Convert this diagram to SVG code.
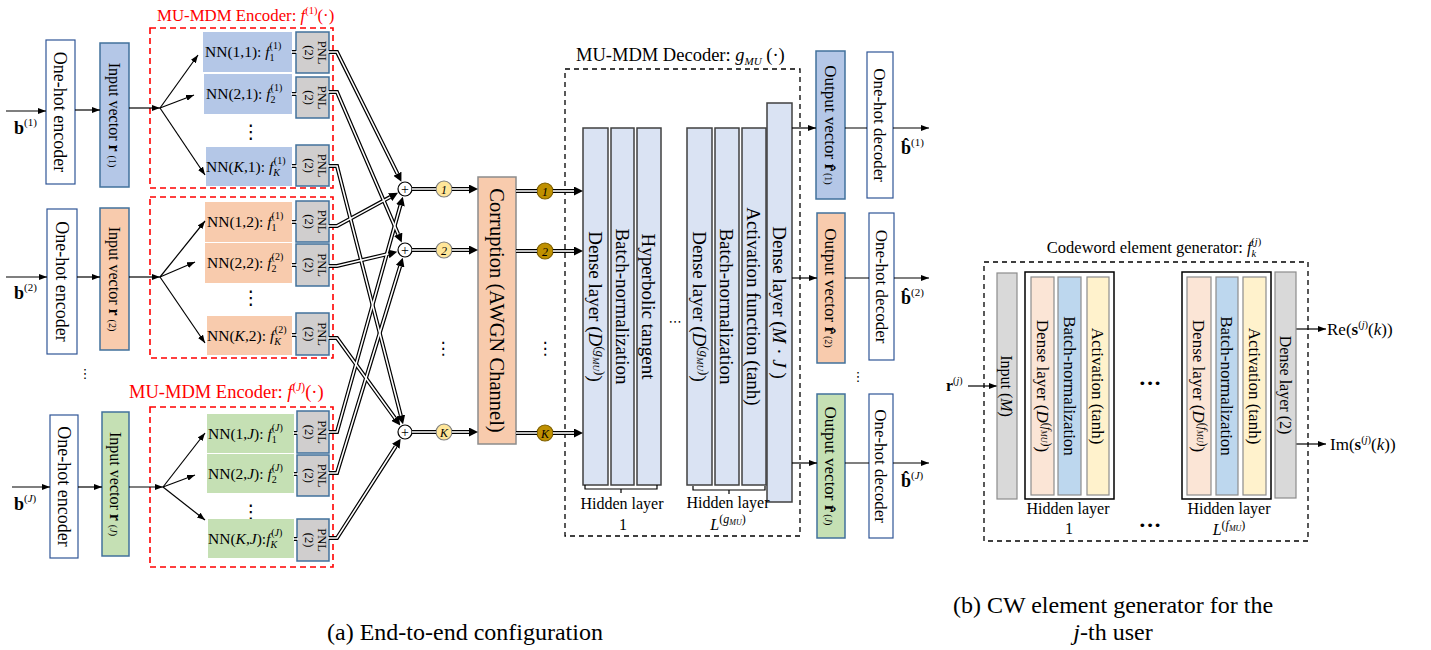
<svg xmlns="http://www.w3.org/2000/svg" width="1431" height="650" viewBox="0 0 1431 650">
<defs>
<style>
text{font-family:"Liberation Serif","Times New Roman",serif;fill:#000}
.i{font-style:italic}
.b{font-weight:bold}
.red{fill:#ff0000}
.dots{font-family:"DejaVu Sans",sans-serif}
.ohe{fill:#fff;stroke:#2f5597;stroke-width:1.2}
.blue{fill:#b4c7e7}
.orange{fill:#f8cbad}
.green{fill:#c5e0b4}
.bd{stroke:#41719c;stroke-width:1.5}
.pnl{fill:#d0cece;stroke:#41719c;stroke-width:1.5}
.encbox{fill:none;stroke:#ff0000;stroke-width:1.6;stroke-dasharray:6 4}
.dash{fill:none;stroke:#000;stroke-width:1.3;stroke-dasharray:5 4}
.layer{fill:#dae3f3;stroke:#404040;stroke-width:1.5}
.arr{fill:none;stroke:#000;stroke-width:1.2;marker-end:url(#ah)}
.ln{fill:none;stroke:#000;stroke-width:1.2}
.db{fill:none;stroke:#000;stroke-width:4}
.dba{fill:none;stroke:#000;stroke-width:4;marker-end:url(#dh)}
.dw{fill:none;stroke:#fff;stroke-width:1.6}
.sum{fill:#fff;stroke:#000;stroke-width:1.2}
.yel{fill:#ffe699;stroke:#7f7f7f;stroke-width:1.2}
.gold{fill:#bf9000;stroke:#7f6000;stroke-width:1.2}
.corr{fill:#f8cbad;stroke:#8c8c8c;stroke-width:1.5}
.gray{fill:#d9d9d9;stroke:#8c8c8c;stroke-width:1.2}
.peach{fill:#fbe5d6;stroke:#8c8c8c;stroke-width:1.2}
.lblue{fill:#bdd7ee;stroke:#8c8c8c;stroke-width:1.2}
.lyel{fill:#fff2cc;stroke:#8c8c8c;stroke-width:1.2}
.hl{fill:#fff;stroke:#000;stroke-width:1.5}
.nn{font-size:15.5px}
.pt{font-size:12.5px}
.f18{font-size:18px}
.f17{font-size:17px}
.f16{font-size:16px}
.f19{font-size:19px}
.cap{font-size:24px}
</style>
<marker id="ah" viewBox="0 0 8 6" markerWidth="8" markerHeight="6" refX="8" refY="3" orient="auto" markerUnits="userSpaceOnUse"><path d="M0,0 L8,3 L0,6 z" fill="#000"/></marker>
<marker id="dh" viewBox="0 0 9 9" markerWidth="9" markerHeight="9" refX="0" refY="4.5" orient="auto" markerUnits="userSpaceOnUse"><path d="M0,0 L9,4.5 L0,9 z" fill="#000"/></marker>
</defs>
<rect width="1431" height="650" fill="#fff"/>

<!-- Left column: inputs -->
<g id="b1-label"><text x="14" y="134" class="f18"><tspan class="b">b</tspan><tspan font-size="11" dy="-8">(1)</tspan></text></g>
<g id="b2-label"><text x="14" y="299" class="f18"><tspan class="b">b</tspan><tspan font-size="11" dy="-8">(2)</tspan></text></g>
<g id="bJ-label"><text x="14" y="510" class="f18"><tspan class="b">b</tspan><tspan font-size="11" dy="-8">(<tspan class="i">J</tspan>)</tspan></text></g>

<g id="ohe1"><rect class="ohe" x="46" y="40" width="29" height="144"/><text class="f18" transform="translate(60.5,112) rotate(90)" text-anchor="middle" dy="0.35em">One-hot encoder</text></g>
<g id="ohe2"><rect class="ohe" x="47" y="209" width="30" height="145"/><text class="f18" transform="translate(62,281.5) rotate(90)" text-anchor="middle" dy="0.35em">One-hot encoder</text></g>
<g id="oheJ"><rect class="ohe" x="50" y="415" width="28" height="143"/><text class="f18" transform="translate(64,486.5) rotate(90)" text-anchor="middle" dy="0.35em">One-hot encoder</text></g>

<g id="iv1"><rect class="blue bd" x="100" y="43" width="29" height="144"/><text class="f16" transform="translate(114.5,115) rotate(90)" text-anchor="middle" dy="0.35em">Input vector <tspan class="b">r</tspan><tspan font-size="10" dx="4">(1)</tspan></text></g>
<g id="iv2"><rect class="orange bd" x="100" y="208" width="29" height="142"/><text class="f16" transform="translate(114.5,279) rotate(90)" text-anchor="middle" dy="0.35em">Input vector <tspan class="b">r</tspan><tspan font-size="10" dx="4">(2)</tspan></text></g>
<g id="ivJ"><rect class="green bd" x="102" y="412" width="27" height="144"/><text class="f16" transform="translate(115.5,484) rotate(90)" text-anchor="middle" dy="0.35em">Input vector <tspan class="b">r</tspan><tspan font-size="10" dx="4">(<tspan class="i">J</tspan>)</tspan></text></g>
<text class="dots" x="85" y="378" font-size="13" text-anchor="middle">⋮</text>

<!-- Encoder 1 -->
<g id="encoder1">
<rect class="encbox" x="150" y="28" width="183" height="160"/>
<text class="red" x="157" y="21" font-size="16.8">MU-MDM Encoder: <tspan class="i">f</tspan><tspan font-size="10.5" dy="-7">(1)</tspan><tspan dy="7">(·)</tspan></text>
<g id="nn-1-1"><rect class="blue" x="203" y="32" width="89" height="40"/><text class="nn" x="205" y="57">NN(1,1): <tspan class="i">f</tspan><tspan font-size="10" dy="4">1</tspan><tspan font-size="10" dx="-5" dy="-12">(1)</tspan></text></g>
<g id="nn-2-1"><rect class="blue" x="204" y="74" width="88" height="40"/><text class="nn" x="206" y="99">NN(2,1): <tspan class="i">f</tspan><tspan font-size="10" dy="4">2</tspan><tspan font-size="10" dx="-5" dy="-12">(1)</tspan></text></g>
<text class="dots" x="251" y="138" font-size="19" text-anchor="middle">⋮</text>
<g id="nn-K-1"><rect class="blue" x="206" y="147" width="86" height="39"/><text class="nn" x="206" y="172">NN(<tspan class="i">K</tspan>,1): <tspan class="i">f</tspan><tspan font-size="10" class="i" dy="4">K</tspan><tspan font-size="10" dx="-6" dy="-12">(1)</tspan></text></g>
<g id="pnl-1-1"><rect class="pnl" x="296" y="32" width="33" height="41"/><text class="pt" transform="translate(318,52.5) rotate(90)" text-anchor="middle">PNL</text><text class="pt" transform="translate(305,52.5) rotate(90)" text-anchor="middle">(2)</text></g>
<g id="pnl-2-1"><rect class="pnl" x="296" y="77" width="33" height="41"/><text class="pt" transform="translate(318,97.5) rotate(90)" text-anchor="middle">PNL</text><text class="pt" transform="translate(305,97.5) rotate(90)" text-anchor="middle">(2)</text></g>
<g id="pnl-K-1"><rect class="pnl" x="296" y="145" width="33" height="41"/><text class="pt" transform="translate(318,165.5) rotate(90)" text-anchor="middle">PNL</text><text class="pt" transform="translate(305,165.5) rotate(90)" text-anchor="middle">(2)</text></g>
</g>

<!-- Encoder 2 -->
<g id="encoder2">
<rect class="encbox" x="150" y="197" width="183" height="161"/>
<g id="nn-1-2"><rect class="orange" x="205" y="202" width="87" height="40"/><text class="nn" x="207" y="227">NN(1,2): <tspan class="i">f</tspan><tspan font-size="10" dy="4">1</tspan><tspan font-size="10" dx="-5" dy="-12">(1)</tspan></text></g>
<g id="nn-2-2"><rect class="orange" x="205" y="243" width="87" height="40"/><text class="nn" x="207" y="268">NN(2,2): <tspan class="i">f</tspan><tspan font-size="10" dy="4">2</tspan><tspan font-size="10" dx="-5" dy="-12">(2)</tspan></text></g>
<text class="dots" x="251" y="304" font-size="19" text-anchor="middle">⋮</text>
<g id="nn-K-2"><rect class="orange" x="207" y="316" width="85" height="39"/><text class="nn" x="207" y="341">NN(<tspan class="i">K</tspan>,2): <tspan class="i">f</tspan><tspan font-size="10" class="i" dy="4">K</tspan><tspan font-size="10" dx="-6" dy="-12">(2)</tspan></text></g>
<g id="pnl-1-2"><rect class="pnl" x="296" y="201" width="33" height="41"/><text class="pt" transform="translate(318,221.5) rotate(90)" text-anchor="middle">PNL</text><text class="pt" transform="translate(305,221.5) rotate(90)" text-anchor="middle">(2)</text></g>
<g id="pnl-2-2"><rect class="pnl" x="296" y="244" width="33" height="42"/><text class="pt" transform="translate(318,265) rotate(90)" text-anchor="middle">PNL</text><text class="pt" transform="translate(305,265) rotate(90)" text-anchor="middle">(2)</text></g>
<g id="pnl-K-2"><rect class="pnl" x="296" y="313" width="33" height="42"/><text class="pt" transform="translate(318,334) rotate(90)" text-anchor="middle">PNL</text><text class="pt" transform="translate(305,334) rotate(90)" text-anchor="middle">(2)</text></g>
</g>

<!-- Encoder J -->
<g id="encoderJ">
<rect class="encbox" x="150" y="407" width="183" height="160"/>
<text class="red" x="129" y="398" font-size="18.5">MU-MDM Encoder: <tspan class="i">f</tspan><tspan font-size="11.5" dy="-7">(<tspan class="i">J</tspan>)</tspan><tspan dy="7">(·)</tspan></text>
<g id="nn-1-J"><rect class="green" x="207" y="414" width="87" height="39"/><text class="nn" x="208" y="439">NN(1,<tspan class="i">J</tspan>): <tspan class="i">f</tspan><tspan font-size="10" dy="4">1</tspan><tspan font-size="10" dx="-5" dy="-12">(<tspan class="i">J</tspan>)</tspan></text></g>
<g id="nn-2-J"><rect class="green" x="207" y="454" width="87" height="39"/><text class="nn" x="208" y="479">NN(2,<tspan class="i">J</tspan>): <tspan class="i">f</tspan><tspan font-size="10" dy="4">2</tspan><tspan font-size="10" dx="-5" dy="-12">(<tspan class="i">J</tspan>)</tspan></text></g>
<text class="dots" x="251" y="518" font-size="19" text-anchor="middle">⋮</text>
<g id="nn-K-J"><rect class="green" x="208" y="519" width="86" height="39"/><text class="nn" x="208" y="544">NN(<tspan class="i">K</tspan>,<tspan class="i">J</tspan>):<tspan class="i">f</tspan><tspan font-size="10" class="i" dy="4">K</tspan><tspan font-size="10" dx="-6" dy="-12">(<tspan class="i">J</tspan>)</tspan></text></g>
<g id="pnl-1-J"><rect class="pnl" x="297" y="411" width="32" height="42"/><text class="pt" transform="translate(318,432) rotate(90)" text-anchor="middle">PNL</text><text class="pt" transform="translate(305,432) rotate(90)" text-anchor="middle">(2)</text></g>
<g id="pnl-2-J"><rect class="pnl" x="297" y="455" width="32" height="41"/><text class="pt" transform="translate(318,475.5) rotate(90)" text-anchor="middle">PNL</text><text class="pt" transform="translate(305,475.5) rotate(90)" text-anchor="middle">(2)</text></g>
<g id="pnl-K-J"><rect class="pnl" x="297" y="519" width="32" height="42"/><text class="pt" transform="translate(318,540) rotate(90)" text-anchor="middle">PNL</text><text class="pt" transform="translate(305,540) rotate(90)" text-anchor="middle">(2)</text></g>
</g>

<!-- Sum nodes and channel indices -->
<g id="sum1"><circle class="sum" cx="405" cy="189" r="7"/><text x="405" y="194" font-size="14" text-anchor="middle">+</text></g>
<g id="sum2"><circle class="sum" cx="405" cy="250" r="7"/><text x="405" y="255" font-size="14" text-anchor="middle">+</text></g>
<g id="sumK"><circle class="sum" cx="405" cy="432" r="7"/><text x="405" y="437" font-size="14" text-anchor="middle">+</text></g>
<g id="y1"><circle class="yel" cx="444" cy="189" r="8"/><text class="i" x="444" y="193.5" font-size="12" text-anchor="middle">1</text></g>
<g id="y2"><circle class="yel" cx="444" cy="250" r="8"/><text class="i" x="444" y="254.5" font-size="12" text-anchor="middle">2</text></g>
<g id="yK"><circle class="yel" cx="444" cy="432" r="8"/><text class="i" x="444" y="436.5" font-size="12" text-anchor="middle">K</text></g>
<text class="dots" x="443" y="354" font-size="17" text-anchor="middle">⋮</text>

<g id="corruption"><rect class="corr" x="478" y="177" width="38" height="267"/><text font-size="20.5" transform="translate(497,310.5) rotate(90)" text-anchor="middle" dy="0.35em">Corruption (AWGN Channel)</text></g>

<g id="g1"><circle class="gold" cx="545" cy="191" r="8"/><text class="i" x="545" y="195.5" font-size="12" text-anchor="middle">1</text></g>
<g id="g2"><circle class="gold" cx="545" cy="251" r="8"/><text class="i" x="545" y="255.5" font-size="12" text-anchor="middle">2</text></g>
<g id="gK"><circle class="gold" cx="545" cy="433" r="8"/><text class="i" x="545" y="437.5" font-size="12" text-anchor="middle">K</text></g>
<text class="dots" x="545" y="354" font-size="17" text-anchor="middle">⋮</text>

<!-- Decoder -->
<g id="decoder">
<rect class="dash" x="565" y="69" width="235" height="467"/>
<text x="576" y="61" font-size="18.5">MU-MDM Decoder: <tspan class="i">g</tspan><tspan class="i" font-size="11" dy="4">MU</tspan><tspan dy="-4"> (·)</tspan></text>
<g id="dec-l1"><rect class="layer" x="583" y="128" width="25" height="357"/><text class="f19" transform="translate(595.5,306.5) rotate(90)" text-anchor="middle" dy="0.35em">Dense layer (<tspan class="i">D</tspan><tspan font-size="13" dy="-7">(</tspan><tspan class="i" font-size="13">g</tspan><tspan class="i" font-size="9" dy="3">MU</tspan><tspan font-size="13" dy="-3">)</tspan><tspan dy="7">)</tspan></text></g>
<g id="dec-l2"><rect class="layer" x="611" y="128" width="23" height="357"/><text class="f19" transform="translate(622.5,306.5) rotate(90)" text-anchor="middle" dy="0.35em">Batch-normalization</text></g>
<g id="dec-l3"><rect class="layer" x="637" y="128" width="24" height="357"/><text class="f19" transform="translate(649,306.5) rotate(90)" text-anchor="middle" dy="0.35em">Hyperbolic tangent</text></g>
<text class="dots" x="675" y="326" font-size="13" text-anchor="middle">⋯</text>
<g id="dec-l4"><rect class="layer" x="687" y="128" width="25" height="357"/><text class="f19" transform="translate(699.5,306.5) rotate(90)" text-anchor="middle" dy="0.35em">Dense layer (<tspan class="i">D</tspan><tspan font-size="13" dy="-7">(</tspan><tspan class="i" font-size="13">g</tspan><tspan class="i" font-size="9" dy="3">MU</tspan><tspan font-size="13" dy="-3">)</tspan><tspan dy="7">)</tspan></text></g>
<g id="dec-l5"><rect class="layer" x="715" y="128" width="24" height="357"/><text class="f19" transform="translate(727,306.5) rotate(90)" text-anchor="middle" dy="0.35em">Batch-normalization</text></g>
<g id="dec-l6"><rect class="layer" x="742" y="128" width="24" height="357"/><text class="f19" transform="translate(754,306.5) rotate(90)" text-anchor="middle" dy="0.35em">Activation function (tanh)</text></g>
<g id="dec-l7"><rect class="layer" x="767" y="103" width="25" height="399"/><text class="f19" transform="translate(779.5,302.5) rotate(90)" text-anchor="middle" dy="0.35em">Dense layer (<tspan class="i">M</tspan> · <tspan class="i">J</tspan> )</text></g>
<path class="ln" d="M585,485 V489 H657 V485 M621,489 V493"/>
<text class="f16" x="622" y="509" text-anchor="middle">Hidden layer</text>
<text class="f16" x="623" y="530" text-anchor="middle">1</text>
<path class="ln" d="M693,486 V490 H765 V486 M729,490 V494"/>
<text class="f16" x="728" y="508" text-anchor="middle">Hidden layer</text>
<text class="f16" x="728" y="530" text-anchor="middle"><tspan class="i">L</tspan><tspan font-size="12" dy="-7">(</tspan><tspan class="i" font-size="12">g</tspan><tspan class="i" font-size="8" dy="2">MU</tspan><tspan font-size="12" dy="-2">)</tspan></text>
</g>

<!-- Outputs -->
<g id="ov1"><rect class="blue bd" x="816" y="51" width="29" height="148"/><text class="f17" transform="translate(830.5,125) rotate(90)" text-anchor="middle" dy="0.35em">Output vector  <tspan class="b">r̂</tspan><tspan font-size="10" dx="2">(1)</tspan></text></g>
<g id="od1"><rect class="ohe" x="867" y="52" width="26" height="146"/><text class="f17" transform="translate(880,125) rotate(90)" text-anchor="middle" dy="0.35em">One-hot decoder</text></g>
<g id="ov2"><rect class="orange bd" x="817" y="213" width="28" height="150"/><text class="f17" transform="translate(831,288) rotate(90)" text-anchor="middle" dy="0.35em">Output vector  <tspan class="b">r̂</tspan><tspan font-size="10" dx="2">(2)</tspan></text></g>
<g id="od2"><rect class="ohe" x="869" y="213" width="25" height="147"/><text class="f17" transform="translate(881.5,286.5) rotate(90)" text-anchor="middle" dy="0.35em">One-hot decoder</text></g>
<text class="dots" x="858" y="381" font-size="13" text-anchor="middle">⋮</text>
<g id="ovJ"><rect class="green bd" x="817" y="394" width="28" height="144"/><text class="f17" transform="translate(831,466) rotate(90)" text-anchor="middle" dy="0.35em">Output vector  <tspan class="b">r̂</tspan><tspan font-size="10" dx="2">(<tspan class="i">J</tspan>)</tspan></text></g>
<g id="odJ"><rect class="ohe" x="869" y="394" width="24" height="144"/><text class="f17" transform="translate(881,466) rotate(90)" text-anchor="middle" dy="0.35em">One-hot decoder</text></g>
<g id="bh1-label"><text x="901" y="154" class="f18"><tspan class="b">b̂</tspan><tspan font-size="11" dy="-8">(1)</tspan></text></g>
<g id="bh2-label"><text x="901" y="304" class="f18"><tspan class="b">b̂</tspan><tspan font-size="11" dy="-8">(2)</tspan></text></g>
<g id="bhJ-label"><text x="901" y="487" class="f18"><tspan class="b">b̂</tspan><tspan font-size="11" dy="-8">(<tspan class="i">J</tspan>)</tspan></text></g>

<!-- Connectors -->
<g id="connectors">
<path class="arr" d="M6,111 H46"/>
<path class="arr" d="M75,110 H100"/>
<path class="arr" d="M129,108 H160"/>
<path class="arr" d="M160,108 L198,55"/>
<path class="arr" d="M160,108 L194,95"/>
<path class="arr" d="M160,108 L205,175"/>
<path class="arr" d="M6,277 H47"/>
<path class="arr" d="M77,277 H100"/>
<path class="arr" d="M129,277 H160"/>
<path class="arr" d="M160,277 L205,221"/>
<path class="arr" d="M160,277 L195,262"/>
<path class="arr" d="M160,277 L205,343"/>
<path class="arr" d="M12,487 H50"/>
<path class="arr" d="M78,487 H102"/>
<path class="arr" d="M129,487 H163"/>
<path class="arr" d="M163,487 L205,433"/>
<path class="arr" d="M163,487 L195,475"/>
<path class="arr" d="M163,487 L205,520"/>

<path class="db" d="M292,52 H296 M292,94 H296 M292,166 H296 M292,222 H296 M292,265 H296 M292,335 H296 M294,433 H297 M294,474 H297 M294,539 H297"/>
<path class="dw" d="M291,52 H297 M291,94 H297 M291,166 H297 M291,222 H297 M291,265 H297 M291,335 H297 M293,433 H298 M293,474 H298 M293,539 H298"/>

<path class="dba" d="M329,52 H337 L397.4,173.7"/>
<path class="dba" d="M329,92 H337 L398.2,234.3"/>
<path class="dba" d="M329,166 H337 L400.8,415.5"/>
<path class="dba" d="M329,226 H337 L390.1,197.1"/>
<path class="dba" d="M329,266 H337 L388.4,253.9"/>
<path class="dba" d="M329,338 H337 L395.0,418.2"/>
<path class="dba" d="M329,432 H337 L400.4,205.4"/>
<path class="dba" d="M329,473 H337 L400.1,266.3"/>
<path class="dba" d="M329,538 H337 L395.8,446.3"/>
<path class="dw" d="M328,52 H337 L397.4,173.7"/>
<path class="dw" d="M328,92 H337 L398.2,234.3"/>
<path class="dw" d="M328,166 H337 L400.8,415.5"/>
<path class="dw" d="M328,226 H337 L390.1,197.1"/>
<path class="dw" d="M328,266 H337 L388.4,253.9"/>
<path class="dw" d="M328,338 H337 L395.0,418.2"/>
<path class="dw" d="M328,432 H337 L400.4,205.4"/>
<path class="dw" d="M328,473 H337 L400.1,266.3"/>
<path class="dw" d="M328,538 H337 L395.8,446.3"/>

<path class="db" d="M412,189 H436 M412,250 H436 M412,432 H436"/>
<path class="dw" d="M412,189 H436 M412,250 H436 M412,432 H436"/>
<path class="dba" d="M452,189 H469"/><path class="dw" d="M452,189 H469"/>
<path class="dba" d="M452,250 H469"/><path class="dw" d="M452,250 H469"/>
<path class="dba" d="M452,432 H469"/><path class="dw" d="M452,432 H469"/>
<path class="db" d="M516,191 H537 M516,251 H537 M516,433 H537"/>
<path class="dw" d="M516,191 H537 M516,251 H537 M516,433 H537"/>
<path class="dba" d="M553,191 H574"/><path class="dw" d="M553,191 H574"/>
<path class="dba" d="M553,251 H574"/><path class="dw" d="M553,251 H574"/>
<path class="dba" d="M553,433 H574"/><path class="dw" d="M553,433 H574"/>

<path class="arr" d="M792,128 H816"/>
<path class="arr" d="M792,278 H817"/>
<path class="arr" d="M792,463 H817"/>
<path class="ln" d="M845,128 H867 M845,278 H869 M845,463 H869"/>
<path class="arr" d="M893,128 H929"/>
<path class="arr" d="M894,278 H929"/>
<path class="arr" d="M893,463 H929"/>

<path class="arr" d="M968,386 H997"/>
<path class="arr" d="M1296,329 H1326"/>
<path class="arr" d="M1296,444 H1326"/>
</g>

<!-- Right panel -->
<g id="cw-generator">
<text x="1154" y="253" font-size="16.5" text-anchor="middle">Codeword element generator: <tspan class="i">f</tspan><tspan class="i" font-size="10.5" dy="4">k</tspan><tspan font-size="10.5" dx="-5" dy="-12">(<tspan class="i">j</tspan>)</tspan></text>
<rect class="dash" x="984" y="262" width="324" height="279"/>
<g id="cw-input"><rect class="gray" x="997" y="273" width="20" height="226"/><text class="f16" transform="translate(1007,386) rotate(90)" text-anchor="middle" dy="0.35em">Input (<tspan class="i">M</tspan>)</text></g>
<g id="cw-hidden1">
<rect class="hl" x="1025" y="272" width="89" height="227"/>
<rect class="peach" x="1031" y="277" width="23" height="218"/>
<rect class="lblue" x="1058" y="277" width="23" height="218"/>
<rect class="lyel" x="1087" y="277" width="22" height="218"/>
<text class="f17" transform="translate(1042.5,386) rotate(90)" text-anchor="middle" dy="0.35em">Dense layer (<tspan class="i">D</tspan><tspan font-size="12" dy="-6">(</tspan><tspan class="i" font-size="12">f</tspan><tspan class="i" font-size="8" dy="2">MU</tspan><tspan font-size="12" dy="-2">)</tspan><tspan dy="6">)</tspan></text>
<text class="f17" transform="translate(1069.5,386) rotate(90)" text-anchor="middle" dy="0.35em">Batch-normalization</text>
<text class="f17" transform="translate(1098,386) rotate(90)" text-anchor="middle" dy="0.35em">Activation (tanh)</text>
</g>
<text class="dots" x="1150" y="388" font-size="13" text-anchor="middle">•••</text>
<g id="cw-hiddenL">
<rect class="hl" x="1182" y="272" width="89" height="227"/>
<rect class="peach" x="1187" y="277" width="24" height="218"/>
<rect class="lblue" x="1216" y="277" width="22" height="218"/>
<rect class="lyel" x="1243" y="277" width="23" height="218"/>
<text class="f17" transform="translate(1199,386) rotate(90)" text-anchor="middle" dy="0.35em">Dense layer (<tspan class="i">D</tspan><tspan font-size="12" dy="-6">(</tspan><tspan class="i" font-size="12">f</tspan><tspan class="i" font-size="8" dy="2">MU</tspan><tspan font-size="12" dy="-2">)</tspan><tspan dy="6">)</tspan></text>
<text class="f17" transform="translate(1227,386) rotate(90)" text-anchor="middle" dy="0.35em">Batch-normalization</text>
<text class="f17" transform="translate(1254.5,386) rotate(90)" text-anchor="middle" dy="0.35em">Activation (tanh)</text>
</g>
<g id="cw-dense2"><rect class="gray" x="1275" y="272" width="21" height="226"/><text class="f16" transform="translate(1285.5,385) rotate(90)" text-anchor="middle" dy="0.35em">Dense layer (2)</text></g>
<text class="f16" x="1068" y="514" text-anchor="middle">Hidden layer</text>
<text class="f16" x="1069" y="534" text-anchor="middle">1</text>
<text class="dots" x="1150" y="530" font-size="13" text-anchor="middle">•••</text>
<text class="f16" x="1229" y="514" text-anchor="middle">Hidden layer</text>
<text class="f16" x="1229" y="535" text-anchor="middle"><tspan class="i">L</tspan><tspan font-size="12" dy="-6">(</tspan><tspan class="i" font-size="12">f</tspan><tspan class="i" font-size="8" dy="2">MU</tspan><tspan font-size="12" dy="-2">)</tspan></text>
<text class="f16" x="946" y="391"><tspan class="b">r</tspan><tspan font-size="10" dy="-7">(<tspan class="i">j</tspan>)</tspan></text>
<text class="f17" x="1327" y="335">Re(<tspan class="b">s</tspan><tspan font-size="10.5" dy="-7">(<tspan class="i">j</tspan>)</tspan><tspan dy="7">(<tspan class="i">k</tspan>))</tspan></text>
<text class="f17" x="1330" y="450">Im(<tspan class="b">s</tspan><tspan font-size="10.5" dy="-7">(<tspan class="i">j</tspan>)</tspan><tspan dy="7">(<tspan class="i">k</tspan>))</tspan></text>
</g>

<!-- Captions -->
<text class="cap" x="465" y="640" text-anchor="middle">(a) End-to-end configuration</text>
<text class="cap" x="1113" y="613" text-anchor="middle">(b) CW element generator for the</text>
<text class="cap" x="1113" y="640" text-anchor="middle"><tspan class="i">j</tspan>-th user</text>
</svg>
